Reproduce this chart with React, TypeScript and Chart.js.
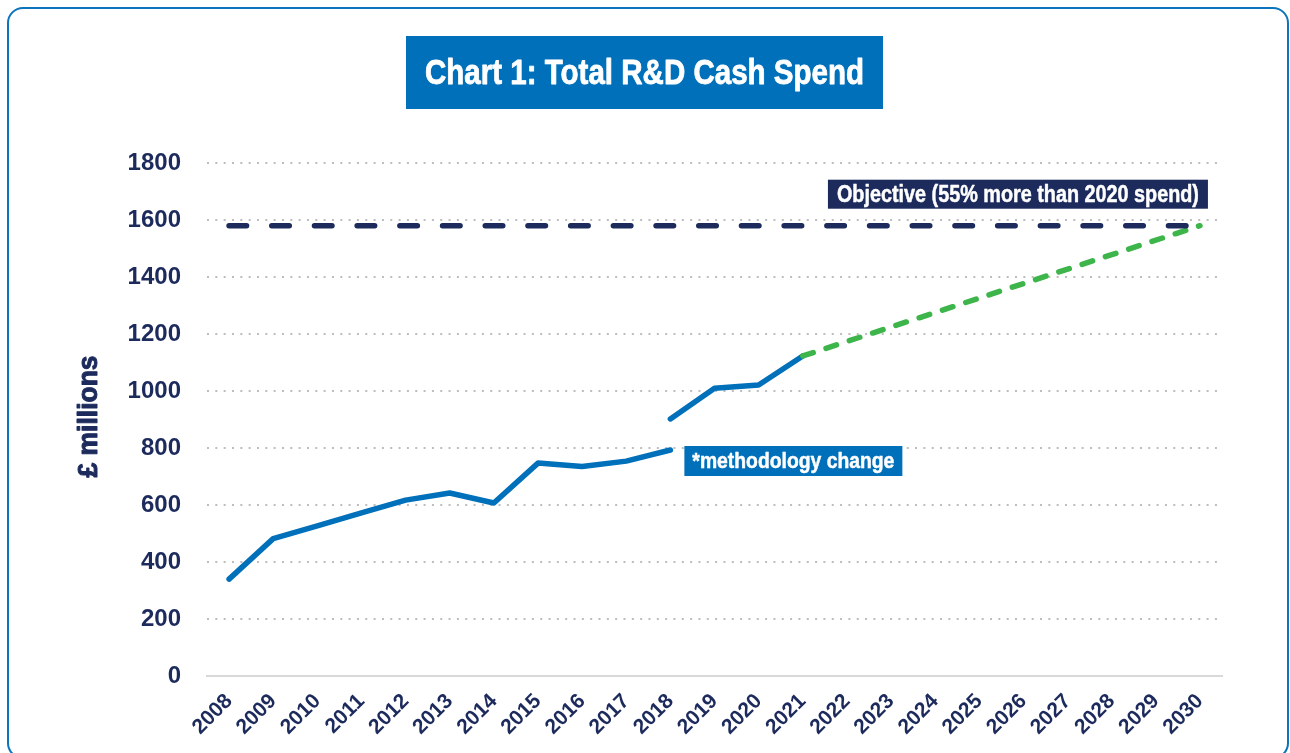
import React, { useEffect, useRef } from "react";
import { Chart, registerables } from "chart.js";

Chart.register(...registerables);

const years = [
  "2008", "2009", "2010", "2011", "2012", "2013", "2014", "2015",
  "2016", "2017", "2018", "2019", "2020", "2021", "2022", "2023",
  "2024", "2025", "2026", "2027", "2028", "2029", "2030",
];

// R&D cash spend, £ millions (old methodology, up to 2018)
const spendOldMethod = [340, 482, 527, 572, 617, 642, 607, 747, 735, 754, 793,
  null, null, null, null, null, null, null, null, null, null, null, null];
// R&D cash spend after methodology change
const spendNewMethod = [null, null, null, null, null, null, null, null, null, null,
  902, 1010, 1021, 1123, null, null, null, null, null, null, null, null, null];
// projected path to the objective
const projection = [null, null, null, null, null, null, null, null, null, null,
  null, null, null, 1123, null, null, null, null, null, null, null, null, 1580];
// objective: 55% more than 2020 spend
const objective = [1580, null, null, null, null, null, null, null, null, null,
  null, null, null, null, null, null, null, null, null, null, null, null, 1580];

const yMin = 0;
const yMax = 1800;
const yStep = 200;

const titleText = "Chart 1: Total R&D Cash Spend";
const yAxisTitle = "£ millions";
const objectiveLabel = "Objective (55% more than 2020 spend)";
const methodLabel = "*methodology change";

const NAVY = "#1C2A5C";
const BLUE = "#0070BA";
const GREEN = "#3DB54A";
const NARROW = "'Liberation Sans Narrow', 'Liberation Sans', Arial, sans-serif";

function fitText(ctx: CanvasRenderingContext2D, text: string, x: number, y: number, targetW: number, font: string, stroke = 0) {
  ctx.save();
  ctx.font = font;
  const w = ctx.measureText(text).width;
  const sx = targetW / w;
  ctx.translate(x, y);
  ctx.scale(sx, 1);
  ctx.textAlign = "center";
  ctx.textBaseline = "alphabetic";
  ctx.fillText(text, 0, 0);
  if (stroke > 0) {
    ctx.strokeStyle = ctx.fillStyle as string;
    ctx.lineWidth = stroke;
    ctx.lineJoin = "round";
    ctx.strokeText(text, 0, 0);
  }
  ctx.restore();
}

const overlayPlugin = {
  id: "overlayLabels",
  afterDraw(chart: any) {
    const ctx: CanvasRenderingContext2D = chart.ctx;
    const xs = chart.scales.x;
    const ys = chart.scales.y;

    // Title box
    ctx.save();
    ctx.fillStyle = BLUE;
    ctx.fillRect(406, 36, 477, 73);
    ctx.fillStyle = "#FFFFFF";
    fitText(ctx, titleText, 406 + 477 / 2, 84, 439, `bold 35px ${NARROW}`, 0.8);

    // Y axis title (rotated)
    ctx.save();
    ctx.translate(97, (chart.chartArea.top + chart.chartArea.bottom) / 2 - 3);
    ctx.rotate(-Math.PI / 2);
    ctx.fillStyle = NAVY;
    fitText(ctx, yAxisTitle, 0, 0, 122, `bold 28px ${NARROW}`, 1);
    ctx.restore();

    // Objective label
    const objY = ys.getPixelForValue(objective[0] as number);
    const right = xs.getPixelForValue(years.length - 1) + 8;
    const bw = 380, bh = 29;
    const bx = right - bw, by = objY - 17 - bh;
    ctx.fillStyle = NAVY;
    ctx.fillRect(bx, by, bw, bh);
    ctx.fillStyle = "#FFFFFF";
    fitText(ctx, objectiveLabel, bx + bw / 2, by + 22, 362, `bold 23px ${NARROW}`, 0.5);

    // Methodology change label
    const mx = xs.getPixelForValue(10) + 14;
    const my = ys.getPixelForValue(spendOldMethod[10] as number) - 4;
    const mw = 218, mh = 30;
    ctx.fillStyle = BLUE;
    ctx.fillRect(mx, my, mw, mh);
    ctx.fillStyle = "#FFFFFF";
    fitText(ctx, methodLabel, mx + mw / 2, my + 22, 202, `bold 22px ${NARROW}`, 0.5);
    ctx.restore();
  },
};

export default function App() {
  const canvasRef = useRef<HTMLCanvasElement | null>(null);

  useEffect(() => {
    document.body.style.overflow = "hidden";
    const canvas = canvasRef.current;
    if (!canvas) return;
    const lineBase = {
      pointRadius: 0,
      pointHoverRadius: 0,
      tension: 0,
      borderCapStyle: "round" as const,
      borderJoinStyle: "round" as const,
      spanGaps: true,
      fill: false,
    };
    const chart = new Chart(canvas, {
      type: "line",
      data: {
        labels: years,
        datasets: [
          { ...lineBase, label: "Objective", data: objective, borderColor: NAVY, borderWidth: 5.5, borderDash: [17.5, 25.2] },
          { ...lineBase, label: "Projection", data: projection, borderColor: GREEN, borderWidth: 5.5, borderDash: [11, 13.5] },
          { ...lineBase, label: "Spend (new)", data: spendNewMethod, borderColor: BLUE, borderWidth: 5.5, spanGaps: false },
          { ...lineBase, label: "Spend (old)", data: spendOldMethod, borderColor: BLUE, borderWidth: 5.5, spanGaps: false },
        ],
      },
      options: {
        animation: false,
        responsive: false,
        maintainAspectRatio: false,
        devicePixelRatio: 1,
        layout: { padding: { top: 163, right: 68, left: 0, bottom: 0 } },
        plugins: {
          legend: { display: false },
          title: { display: false },
          tooltip: { enabled: false },
        },
        scales: {
          x: {
            type: "category",
            offset: true,
            grid: { display: false, drawTicks: false },
            border: { display: true, color: "#D9D9D9", width: 2 },
            ticks: {
              autoSkip: false,
              maxRotation: 45,
              minRotation: 45,
              padding: 13,
              color: NAVY,
              font: { family: "'Liberation Sans', Arial, sans-serif", size: 21, weight: "bold" },
            },
            afterFit: (s: any) => { s.height = 77; },
          },
          y: {
            min: yMin,
            max: yMax,
            grid: { color: "#BDBDBD", lineWidth: 2, drawTicks: false },
            border: { display: false, dash: [2, 6.33] },
            ticks: {
              stepSize: yStep,
              padding: 26,
              color: NAVY,
              font: { family: "'Liberation Sans', Arial, sans-serif", size: 24, weight: "bold" },
              callback: (v: any) => String(v),
            },
            afterFit: (s: any) => { s.width = 207; },
          },
        },
      } as any,
      plugins: [overlayPlugin],
    });
    return () => chart.destroy();
  }, []);

  return (
    <div style={{ position: "fixed", left: 0, top: 0, width: 1290, height: 753, background: "#FFFFFF", overflow: "hidden" }}>
      <div
        style={{
          position: "absolute",
          left: 7,
          top: 7,
          width: 1282,
          height: 752,
          border: "2.5px solid #0B74BC",
          borderRadius: 16,
          boxSizing: "border-box",
        }}
      />
      <canvas
        ref={canvasRef}
        width={1290}
        height={753}
        style={{ position: "absolute", left: 0, top: 0, width: 1290, height: 753 }}
      />
    </div>
  );
}
